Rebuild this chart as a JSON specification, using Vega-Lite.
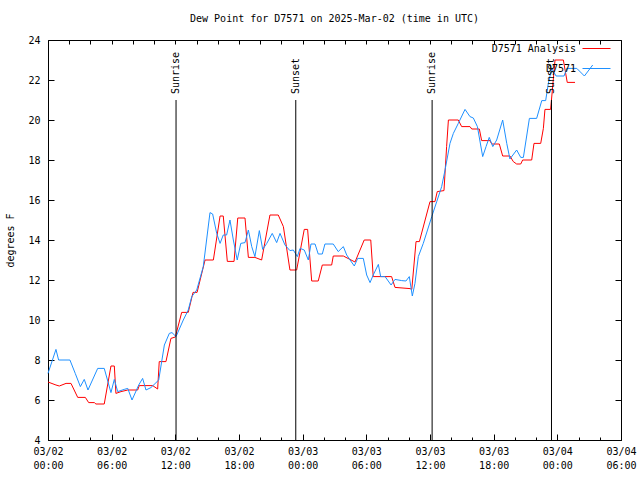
{
  "$schema": "https://vega.github.io/schema/vega-lite/v6.json",
  "width": 573,
  "height": 400,
  "autosize": "none",
  "padding": {"left": 48, "top": 40, "right": 19, "bottom": 40},
  "background": "white",
  "title": {"text": "Dew Point for D7571 on 2025-Mar-02 (time in UTC)", "font": "DejaVu Sans Mono", "fontSize": 10, "fontWeight": "normal", "anchor": "middle", "offset": 10, "color": "black"},
  "config": {
    "view": {"stroke": "black", "strokeWidth": 1},
    "font": "DejaVu Sans Mono",
    "axis": {"grid": false, "domain": false, "labelFont": "DejaVu Sans Mono", "labelFontSize": 10, "labelColor": "black", "tickColor": "black", "titleFont": "DejaVu Sans Mono", "titleFontSize": 10, "titleFontWeight": "normal", "titleColor": "black", "labelOverlap": false, "labelFlush": false, "labelBound": false}
  },
  "datasets": {
    "series": [
      {"t": "2025-03-02T00:00:00Z", "v": 6.9, "s": "D7571 Analysis"},
      {"t": "2025-03-02T00:45:00Z", "v": 6.75, "s": "D7571 Analysis"},
      {"t": "2025-03-02T01:04:00Z", "v": 6.7, "s": "D7571 Analysis"},
      {"t": "2025-03-02T01:42:00Z", "v": 6.83, "s": "D7571 Analysis"},
      {"t": "2025-03-02T02:10:00Z", "v": 6.83, "s": "D7571 Analysis"},
      {"t": "2025-03-02T02:48:00Z", "v": 6.13, "s": "D7571 Analysis"},
      {"t": "2025-03-02T03:31:00Z", "v": 6.13, "s": "D7571 Analysis"},
      {"t": "2025-03-02T03:50:00Z", "v": 5.87, "s": "D7571 Analysis"},
      {"t": "2025-03-02T04:22:00Z", "v": 5.87, "s": "D7571 Analysis"},
      {"t": "2025-03-02T04:31:00Z", "v": 5.8, "s": "D7571 Analysis"},
      {"t": "2025-03-02T05:18:00Z", "v": 5.8, "s": "D7571 Analysis"},
      {"t": "2025-03-02T05:56:00Z", "v": 7.7, "s": "D7571 Analysis"},
      {"t": "2025-03-02T06:15:00Z", "v": 7.7, "s": "D7571 Analysis"},
      {"t": "2025-03-02T06:24:00Z", "v": 6.33, "s": "D7571 Analysis"},
      {"t": "2025-03-02T06:53:00Z", "v": 6.42, "s": "D7571 Analysis"},
      {"t": "2025-03-02T07:31:00Z", "v": 6.5, "s": "D7571 Analysis"},
      {"t": "2025-03-02T08:27:00Z", "v": 6.5, "s": "D7571 Analysis"},
      {"t": "2025-03-02T08:36:00Z", "v": 6.72, "s": "D7571 Analysis"},
      {"t": "2025-03-02T09:52:00Z", "v": 6.72, "s": "D7571 Analysis"},
      {"t": "2025-03-02T10:20:00Z", "v": 6.55, "s": "D7571 Analysis"},
      {"t": "2025-03-02T10:29:00Z", "v": 7.92, "s": "D7571 Analysis"},
      {"t": "2025-03-02T11:07:00Z", "v": 7.92, "s": "D7571 Analysis"},
      {"t": "2025-03-02T11:35:00Z", "v": 9.08, "s": "D7571 Analysis"},
      {"t": "2025-03-02T12:00:00Z", "v": 9.15, "s": "D7571 Analysis"},
      {"t": "2025-03-02T12:36:00Z", "v": 10.38, "s": "D7571 Analysis"},
      {"t": "2025-03-02T13:13:00Z", "v": 10.38, "s": "D7571 Analysis"},
      {"t": "2025-03-02T13:40:00Z", "v": 11.38, "s": "D7571 Analysis"},
      {"t": "2025-03-02T14:03:00Z", "v": 11.38, "s": "D7571 Analysis"},
      {"t": "2025-03-02T14:48:00Z", "v": 13.0, "s": "D7571 Analysis"},
      {"t": "2025-03-02T15:35:00Z", "v": 13.0, "s": "D7571 Analysis"},
      {"t": "2025-03-02T16:13:00Z", "v": 15.2, "s": "D7571 Analysis"},
      {"t": "2025-03-02T16:31:00Z", "v": 15.2, "s": "D7571 Analysis"},
      {"t": "2025-03-02T16:54:00Z", "v": 12.93, "s": "D7571 Analysis"},
      {"t": "2025-03-02T17:32:00Z", "v": 12.93, "s": "D7571 Analysis"},
      {"t": "2025-03-02T17:53:00Z", "v": 15.1, "s": "D7571 Analysis"},
      {"t": "2025-03-02T18:34:00Z", "v": 15.1, "s": "D7571 Analysis"},
      {"t": "2025-03-02T18:53:00Z", "v": 13.13, "s": "D7571 Analysis"},
      {"t": "2025-03-02T19:30:00Z", "v": 13.13, "s": "D7571 Analysis"},
      {"t": "2025-03-02T20:08:00Z", "v": 13.0, "s": "D7571 Analysis"},
      {"t": "2025-03-02T20:55:00Z", "v": 15.25, "s": "D7571 Analysis"},
      {"t": "2025-03-02T21:42:00Z", "v": 15.25, "s": "D7571 Analysis"},
      {"t": "2025-03-02T22:11:00Z", "v": 14.67, "s": "D7571 Analysis"},
      {"t": "2025-03-02T22:48:00Z", "v": 12.5, "s": "D7571 Analysis"},
      {"t": "2025-03-02T23:26:00Z", "v": 12.5, "s": "D7571 Analysis"},
      {"t": "2025-03-03T00:09:00Z", "v": 14.53, "s": "D7571 Analysis"},
      {"t": "2025-03-03T00:28:00Z", "v": 14.53, "s": "D7571 Analysis"},
      {"t": "2025-03-03T00:51:00Z", "v": 11.95, "s": "D7571 Analysis"},
      {"t": "2025-03-03T01:28:00Z", "v": 11.95, "s": "D7571 Analysis"},
      {"t": "2025-03-03T01:51:00Z", "v": 12.75, "s": "D7571 Analysis"},
      {"t": "2025-03-03T02:44:00Z", "v": 12.75, "s": "D7571 Analysis"},
      {"t": "2025-03-03T02:53:00Z", "v": 13.2, "s": "D7571 Analysis"},
      {"t": "2025-03-03T03:50:00Z", "v": 13.2, "s": "D7571 Analysis"},
      {"t": "2025-03-03T04:56:00Z", "v": 12.9, "s": "D7571 Analysis"},
      {"t": "2025-03-03T05:48:00Z", "v": 14.0, "s": "D7571 Analysis"},
      {"t": "2025-03-03T06:25:00Z", "v": 14.0, "s": "D7571 Analysis"},
      {"t": "2025-03-03T06:39:00Z", "v": 12.17, "s": "D7571 Analysis"},
      {"t": "2025-03-03T08:23:00Z", "v": 12.17, "s": "D7571 Analysis"},
      {"t": "2025-03-03T08:42:00Z", "v": 11.63, "s": "D7571 Analysis"},
      {"t": "2025-03-03T10:07:00Z", "v": 11.57, "s": "D7571 Analysis"},
      {"t": "2025-03-03T10:17:00Z", "v": 11.53, "s": "D7571 Analysis"},
      {"t": "2025-03-03T10:41:00Z", "v": 13.92, "s": "D7571 Analysis"},
      {"t": "2025-03-03T11:00:00Z", "v": 13.92, "s": "D7571 Analysis"},
      {"t": "2025-03-03T12:00:00Z", "v": 15.92, "s": "D7571 Analysis"},
      {"t": "2025-03-03T12:28:00Z", "v": 15.92, "s": "D7571 Analysis"},
      {"t": "2025-03-03T12:41:00Z", "v": 16.42, "s": "D7571 Analysis"},
      {"t": "2025-03-03T13:19:00Z", "v": 16.47, "s": "D7571 Analysis"},
      {"t": "2025-03-03T13:34:00Z", "v": 18.67, "s": "D7571 Analysis"},
      {"t": "2025-03-03T13:44:00Z", "v": 20.0, "s": "D7571 Analysis"},
      {"t": "2025-03-03T14:40:00Z", "v": 20.0, "s": "D7571 Analysis"},
      {"t": "2025-03-03T14:59:00Z", "v": 19.67, "s": "D7571 Analysis"},
      {"t": "2025-03-03T15:46:00Z", "v": 19.67, "s": "D7571 Analysis"},
      {"t": "2025-03-03T15:56:00Z", "v": 19.55, "s": "D7571 Analysis"},
      {"t": "2025-03-03T16:39:00Z", "v": 19.55, "s": "D7571 Analysis"},
      {"t": "2025-03-03T16:52:00Z", "v": 18.97, "s": "D7571 Analysis"},
      {"t": "2025-03-03T17:39:00Z", "v": 18.97, "s": "D7571 Analysis"},
      {"t": "2025-03-03T17:49:00Z", "v": 18.8, "s": "D7571 Analysis"},
      {"t": "2025-03-03T18:32:00Z", "v": 18.8, "s": "D7571 Analysis"},
      {"t": "2025-03-03T18:51:00Z", "v": 18.2, "s": "D7571 Analysis"},
      {"t": "2025-03-03T19:32:00Z", "v": 18.2, "s": "D7571 Analysis"},
      {"t": "2025-03-03T19:51:00Z", "v": 17.92, "s": "D7571 Analysis"},
      {"t": "2025-03-03T20:10:00Z", "v": 17.8, "s": "D7571 Analysis"},
      {"t": "2025-03-03T20:33:00Z", "v": 17.8, "s": "D7571 Analysis"},
      {"t": "2025-03-03T20:44:00Z", "v": 18.0, "s": "D7571 Analysis"},
      {"t": "2025-03-03T21:35:00Z", "v": 18.0, "s": "D7571 Analysis"},
      {"t": "2025-03-03T21:48:00Z", "v": 18.83, "s": "D7571 Analysis"},
      {"t": "2025-03-03T22:26:00Z", "v": 18.83, "s": "D7571 Analysis"},
      {"t": "2025-03-03T22:41:00Z", "v": 19.58, "s": "D7571 Analysis"},
      {"t": "2025-03-03T22:50:00Z", "v": 20.53, "s": "D7571 Analysis"},
      {"t": "2025-03-03T23:22:00Z", "v": 20.53, "s": "D7571 Analysis"},
      {"t": "2025-03-03T23:47:00Z", "v": 23.0, "s": "D7571 Analysis"},
      {"t": "2025-03-04T00:34:00Z", "v": 23.0, "s": "D7571 Analysis"},
      {"t": "2025-03-04T00:56:00Z", "v": 21.88, "s": "D7571 Analysis"},
      {"t": "2025-03-04T01:40:00Z", "v": 21.88, "s": "D7571 Analysis"},
      {"t": "2025-03-02T00:00:00Z", "v": 7.33, "s": "D7571"},
      {"t": "2025-03-02T00:45:00Z", "v": 8.53, "s": "D7571"},
      {"t": "2025-03-02T01:00:00Z", "v": 8.0, "s": "D7571"},
      {"t": "2025-03-02T02:04:00Z", "v": 8.0, "s": "D7571"},
      {"t": "2025-03-02T02:34:00Z", "v": 7.33, "s": "D7571"},
      {"t": "2025-03-02T03:03:00Z", "v": 6.67, "s": "D7571"},
      {"t": "2025-03-02T03:25:00Z", "v": 7.03, "s": "D7571"},
      {"t": "2025-03-02T03:46:00Z", "v": 6.5, "s": "D7571"},
      {"t": "2025-03-02T04:41:00Z", "v": 7.58, "s": "D7571"},
      {"t": "2025-03-02T05:18:00Z", "v": 7.58, "s": "D7571"},
      {"t": "2025-03-02T05:56:00Z", "v": 6.37, "s": "D7571"},
      {"t": "2025-03-02T06:15:00Z", "v": 7.03, "s": "D7571"},
      {"t": "2025-03-02T06:34:00Z", "v": 6.42, "s": "D7571"},
      {"t": "2025-03-02T07:11:00Z", "v": 6.53, "s": "D7571"},
      {"t": "2025-03-02T07:31:00Z", "v": 6.58, "s": "D7571"},
      {"t": "2025-03-02T07:55:00Z", "v": 6.0, "s": "D7571"},
      {"t": "2025-03-02T08:33:00Z", "v": 6.75, "s": "D7571"},
      {"t": "2025-03-02T08:55:00Z", "v": 7.08, "s": "D7571"},
      {"t": "2025-03-02T09:14:00Z", "v": 6.5, "s": "D7571"},
      {"t": "2025-03-02T09:42:00Z", "v": 6.62, "s": "D7571"},
      {"t": "2025-03-02T10:26:00Z", "v": 7.0, "s": "D7571"},
      {"t": "2025-03-02T10:58:00Z", "v": 8.75, "s": "D7571"},
      {"t": "2025-03-02T11:26:00Z", "v": 9.33, "s": "D7571"},
      {"t": "2025-03-02T11:41:00Z", "v": 9.37, "s": "D7571"},
      {"t": "2025-03-02T12:04:00Z", "v": 9.17, "s": "D7571"},
      {"t": "2025-03-02T12:45:00Z", "v": 10.0, "s": "D7571"},
      {"t": "2025-03-02T13:13:00Z", "v": 10.5, "s": "D7571"},
      {"t": "2025-03-02T13:33:00Z", "v": 11.17, "s": "D7571"},
      {"t": "2025-03-02T14:01:00Z", "v": 11.5, "s": "D7571"},
      {"t": "2025-03-02T14:38:00Z", "v": 12.67, "s": "D7571"},
      {"t": "2025-03-02T15:16:00Z", "v": 15.37, "s": "D7571"},
      {"t": "2025-03-02T15:31:00Z", "v": 15.3, "s": "D7571"},
      {"t": "2025-03-02T15:54:00Z", "v": 14.33, "s": "D7571"},
      {"t": "2025-03-02T16:13:00Z", "v": 13.83, "s": "D7571"},
      {"t": "2025-03-02T16:31:00Z", "v": 14.25, "s": "D7571"},
      {"t": "2025-03-02T16:50:00Z", "v": 14.25, "s": "D7571"},
      {"t": "2025-03-02T17:09:00Z", "v": 15.0, "s": "D7571"},
      {"t": "2025-03-02T17:28:00Z", "v": 14.0, "s": "D7571"},
      {"t": "2025-03-02T17:50:00Z", "v": 13.0, "s": "D7571"},
      {"t": "2025-03-02T18:10:00Z", "v": 13.83, "s": "D7571"},
      {"t": "2025-03-02T18:34:00Z", "v": 13.87, "s": "D7571"},
      {"t": "2025-03-02T18:53:00Z", "v": 14.5, "s": "D7571"},
      {"t": "2025-03-02T19:12:00Z", "v": 13.67, "s": "D7571"},
      {"t": "2025-03-02T19:30:00Z", "v": 13.17, "s": "D7571"},
      {"t": "2025-03-02T19:55:00Z", "v": 14.47, "s": "D7571"},
      {"t": "2025-03-02T20:14:00Z", "v": 13.53, "s": "D7571"},
      {"t": "2025-03-02T20:37:00Z", "v": 13.83, "s": "D7571"},
      {"t": "2025-03-02T21:08:00Z", "v": 14.33, "s": "D7571"},
      {"t": "2025-03-02T21:33:00Z", "v": 13.87, "s": "D7571"},
      {"t": "2025-03-02T21:52:00Z", "v": 14.33, "s": "D7571"},
      {"t": "2025-03-02T22:20:00Z", "v": 13.75, "s": "D7571"},
      {"t": "2025-03-02T22:48:00Z", "v": 13.47, "s": "D7571"},
      {"t": "2025-03-02T23:07:00Z", "v": 13.5, "s": "D7571"},
      {"t": "2025-03-02T23:30:00Z", "v": 13.17, "s": "D7571"},
      {"t": "2025-03-02T23:45:00Z", "v": 13.58, "s": "D7571"},
      {"t": "2025-03-03T00:09:00Z", "v": 13.5, "s": "D7571"},
      {"t": "2025-03-03T00:32:00Z", "v": 13.0, "s": "D7571"},
      {"t": "2025-03-03T00:47:00Z", "v": 13.8, "s": "D7571"},
      {"t": "2025-03-03T01:10:00Z", "v": 13.8, "s": "D7571"},
      {"t": "2025-03-03T01:28:00Z", "v": 13.3, "s": "D7571"},
      {"t": "2025-03-03T01:51:00Z", "v": 13.3, "s": "D7571"},
      {"t": "2025-03-03T02:06:00Z", "v": 13.8, "s": "D7571"},
      {"t": "2025-03-03T02:53:00Z", "v": 13.8, "s": "D7571"},
      {"t": "2025-03-03T03:21:00Z", "v": 13.42, "s": "D7571"},
      {"t": "2025-03-03T03:50:00Z", "v": 13.67, "s": "D7571"},
      {"t": "2025-03-03T04:09:00Z", "v": 13.25, "s": "D7571"},
      {"t": "2025-03-03T04:28:00Z", "v": 13.0, "s": "D7571"},
      {"t": "2025-03-03T04:52:00Z", "v": 12.7, "s": "D7571"},
      {"t": "2025-03-03T05:11:00Z", "v": 13.08, "s": "D7571"},
      {"t": "2025-03-03T05:43:00Z", "v": 13.08, "s": "D7571"},
      {"t": "2025-03-03T06:02:00Z", "v": 12.25, "s": "D7571"},
      {"t": "2025-03-03T06:21:00Z", "v": 11.87, "s": "D7571"},
      {"t": "2025-03-03T06:39:00Z", "v": 12.25, "s": "D7571"},
      {"t": "2025-03-03T07:08:00Z", "v": 12.78, "s": "D7571"},
      {"t": "2025-03-03T07:21:00Z", "v": 12.17, "s": "D7571"},
      {"t": "2025-03-03T07:46:00Z", "v": 12.17, "s": "D7571"},
      {"t": "2025-03-03T08:20:00Z", "v": 11.75, "s": "D7571"},
      {"t": "2025-03-03T08:42:00Z", "v": 12.03, "s": "D7571"},
      {"t": "2025-03-03T09:20:00Z", "v": 11.97, "s": "D7571"},
      {"t": "2025-03-03T09:44:00Z", "v": 11.95, "s": "D7571"},
      {"t": "2025-03-03T10:03:00Z", "v": 12.17, "s": "D7571"},
      {"t": "2025-03-03T10:20:00Z", "v": 11.2, "s": "D7571"},
      {"t": "2025-03-03T10:35:00Z", "v": 11.83, "s": "D7571"},
      {"t": "2025-03-03T10:54:00Z", "v": 13.17, "s": "D7571"},
      {"t": "2025-03-03T11:22:00Z", "v": 13.83, "s": "D7571"},
      {"t": "2025-03-03T12:10:00Z", "v": 15.17, "s": "D7571"},
      {"t": "2025-03-03T12:38:00Z", "v": 15.92, "s": "D7571"},
      {"t": "2025-03-03T13:06:00Z", "v": 16.67, "s": "D7571"},
      {"t": "2025-03-03T13:25:00Z", "v": 17.5, "s": "D7571"},
      {"t": "2025-03-03T13:53:00Z", "v": 18.83, "s": "D7571"},
      {"t": "2025-03-03T14:12:00Z", "v": 19.33, "s": "D7571"},
      {"t": "2025-03-03T14:40:00Z", "v": 19.83, "s": "D7571"},
      {"t": "2025-03-03T15:18:00Z", "v": 20.53, "s": "D7571"},
      {"t": "2025-03-03T15:46:00Z", "v": 20.17, "s": "D7571"},
      {"t": "2025-03-03T16:05:00Z", "v": 20.1, "s": "D7571"},
      {"t": "2025-03-03T16:28:00Z", "v": 19.67, "s": "D7571"},
      {"t": "2025-03-03T16:58:00Z", "v": 18.17, "s": "D7571"},
      {"t": "2025-03-03T17:17:00Z", "v": 18.67, "s": "D7571"},
      {"t": "2025-03-03T17:35:00Z", "v": 19.13, "s": "D7571"},
      {"t": "2025-03-03T17:55:00Z", "v": 18.67, "s": "D7571"},
      {"t": "2025-03-03T18:17:00Z", "v": 19.0, "s": "D7571"},
      {"t": "2025-03-03T18:51:00Z", "v": 20.0, "s": "D7571"},
      {"t": "2025-03-03T19:14:00Z", "v": 18.83, "s": "D7571"},
      {"t": "2025-03-03T19:32:00Z", "v": 18.05, "s": "D7571"},
      {"t": "2025-03-03T20:10:00Z", "v": 18.5, "s": "D7571"},
      {"t": "2025-03-03T20:33:00Z", "v": 18.13, "s": "D7571"},
      {"t": "2025-03-03T20:48:00Z", "v": 18.13, "s": "D7571"},
      {"t": "2025-03-03T21:22:00Z", "v": 20.08, "s": "D7571"},
      {"t": "2025-03-03T22:03:00Z", "v": 20.08, "s": "D7571"},
      {"t": "2025-03-03T22:32:00Z", "v": 20.97, "s": "D7571"},
      {"t": "2025-03-03T22:54:00Z", "v": 20.97, "s": "D7571"},
      {"t": "2025-03-03T23:09:00Z", "v": 21.83, "s": "D7571"},
      {"t": "2025-03-03T23:28:00Z", "v": 22.58, "s": "D7571"},
      {"t": "2025-03-03T23:53:00Z", "v": 22.2, "s": "D7571"},
      {"t": "2025-03-04T00:38:00Z", "v": 22.2, "s": "D7571"},
      {"t": "2025-03-04T00:53:00Z", "v": 22.58, "s": "D7571"},
      {"t": "2025-03-04T01:50:00Z", "v": 22.58, "s": "D7571"},
      {"t": "2025-03-04T02:33:00Z", "v": 22.2, "s": "D7571"},
      {"t": "2025-03-04T03:20:00Z", "v": 22.75, "s": "D7571"}
    ],
    "sun": [
      {"t": "2025-03-02T12:04:00Z", "event": "Sunrise"},
      {"t": "2025-03-02T23:21:00Z", "event": "Sunset"},
      {"t": "2025-03-03T12:12:00Z", "event": "Sunrise"},
      {"t": "2025-03-03T23:27:00Z", "event": "Sunset"}
    ]
  },
  "resolve": {"axis": {"x": "independent", "y": "independent"}},
  "layer": [
    {
      "data": {"name": "series"},
      "mark": {"type": "line", "strokeWidth": 1, "interpolate": "linear"},
      "encoding": {
        "x": {"field": "t", "type": "temporal",
          "scale": {"type": "utc", "domain": [1740873600000, 1741068000000], "nice": false},
          "axis": {"orient": "bottom", "title": null,
            "values": [1740873600000, 1740895200000, 1740916800000, 1740938400000, 1740960000000, 1740981600000, 1741003200000, 1741024800000, 1741046400000, 1741068000000],
            "labelExpr": "[utcFormat(datum.value, '%m/%d'), utcFormat(datum.value, '%H:%M')]",
            "tickSize": -6, "labelPadding": 12, "labelLineHeight": 14, "labelAlign": "center", "labelBaseline": "top"}},
        "y": {"field": "v", "type": "quantitative",
          "scale": {"domain": [4, 24], "nice": false, "zero": false},
          "axis": {"orient": "left", "title": "degrees F", "values": [4, 6, 8, 10, 12, 14, 16, 18, 20, 22, 24], "tickSize": -6, "labelPadding": 14,
            "titleAngle": 270, "titleX": -38, "titleY": 200, "titleAlign": "center", "titleBaseline": "middle"}},
        "color": {"field": "s", "type": "nominal",
          "scale": {"domain": ["D7571 Analysis", "D7571"], "range": ["#ff0000", "#1e90ff"]},
          "legend": {"title": null, "orient": "none", "legendX": 534, "legendY": -6, "padding": 0, "symbolType": "stroke", "symbolSize": 784, "symbolStrokeWidth": 1,
            "labelAlign": "right", "labelOffset": -35, "labelFont": "DejaVu Sans Mono", "labelFontSize": 10, "labelColor": "black", "rowPadding": -14}}
      }
    },
    {
      "data": {"name": "sun"},
      "mark": {"type": "rule", "color": "black", "strokeWidth": 1},
      "encoding": {
        "x": {"field": "t", "type": "temporal",
          "axis": {"orient": "top", "title": null, "labels": false, "tickSize": -4,
            "values": [1740873600000, 1740880800000, 1740888000000, 1740895200000, 1740902400000, 1740909600000, 1740916800000, 1740924000000, 1740931200000, 1740938400000, 1740945600000, 1740952800000, 1740960000000, 1740967200000, 1740974400000, 1740981600000, 1740988800000, 1740996000000, 1741003200000, 1741010400000, 1741017600000, 1741024800000, 1741032000000, 1741039200000, 1741046400000, 1741053600000, 1741060800000, 1741068000000]}},
        "y": {"datum": 4, "type": "quantitative",
          "axis": {"orient": "right", "title": null, "labels": false, "values": [4, 6, 8, 10, 12, 14, 16, 18, 20, 22, 24], "tickSize": -6}},
        "y2": {"datum": 21}
      }
    },
    {
      "data": {"name": "sun"},
      "mark": {"type": "text", "angle": 270, "align": "left", "baseline": "middle", "dx": 6, "font": "DejaVu Sans Mono", "fontSize": 10, "color": "black"},
      "encoding": {
        "x": {"field": "t", "type": "temporal",
          "axis": {"orient": "bottom", "title": null, "labels": false, "tickSize": -3,
            "values": [1740873600000, 1740880800000, 1740888000000, 1740895200000, 1740902400000, 1740909600000, 1740916800000, 1740924000000, 1740931200000, 1740938400000, 1740945600000, 1740952800000, 1740960000000, 1740967200000, 1740974400000, 1740981600000, 1740988800000, 1740996000000, 1741003200000, 1741010400000, 1741017600000, 1741024800000, 1741032000000, 1741039200000, 1741046400000, 1741053600000, 1741060800000, 1741068000000]}},
        "y": {"datum": 21, "type": "quantitative", "axis": null},
        "text": {"field": "event"}
      }
    }
  ]
}
